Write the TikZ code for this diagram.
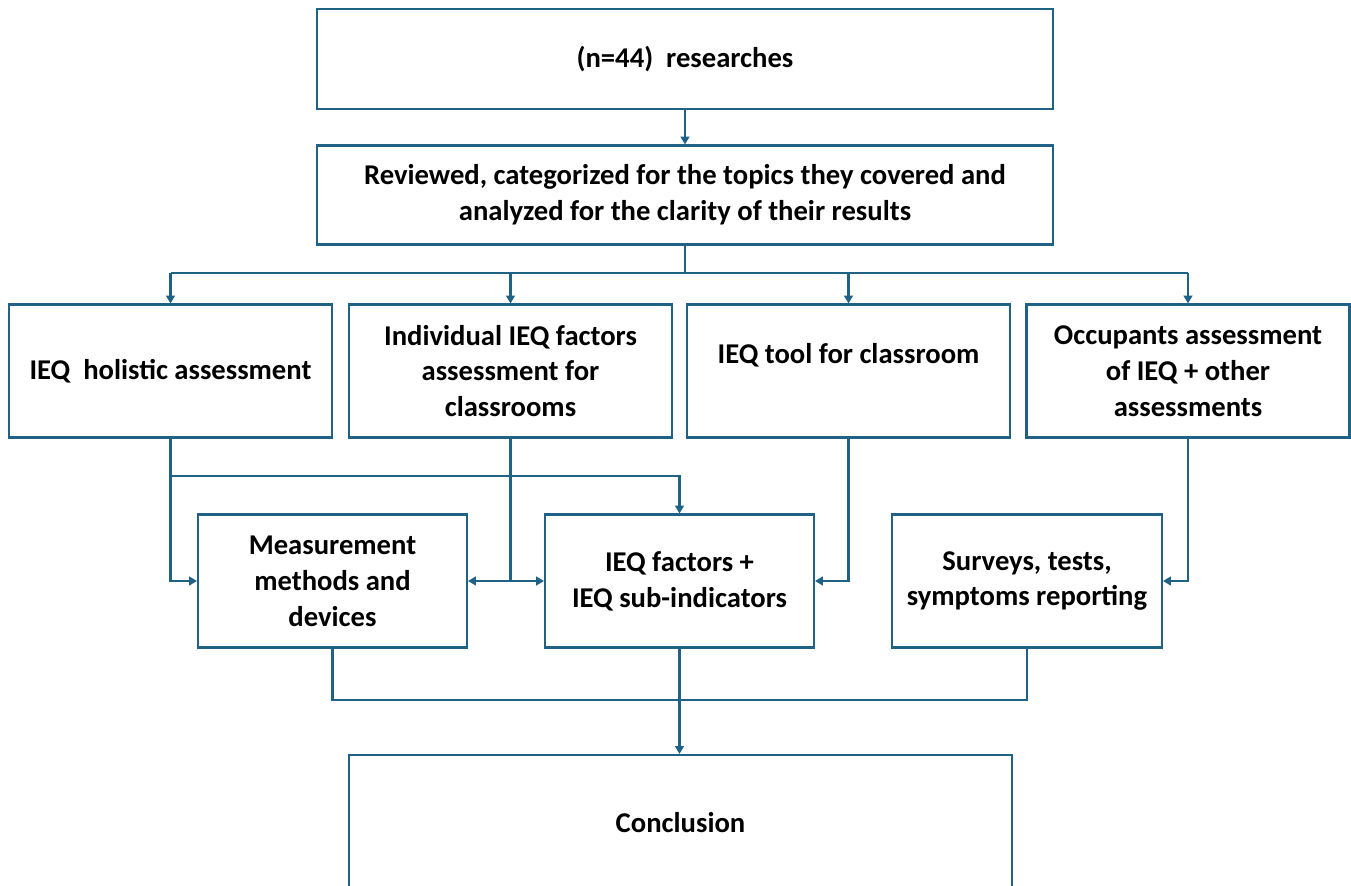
\documentclass[tikz,border=0pt]{standalone}
\usepackage{fontspec}
\setmainfont{Carlito}
\usepackage{tikz}
\usetikzlibrary{arrows.meta,positioning}
\definecolor{flowblue}{HTML}{1F6286}

\tikzset{
  box/.style={draw=flowblue, line width=1.2pt, fill=white, align=center,
    inner sep=2pt, font=\fontsize{16.3}{20.4}\selectfont\bfseries},
  wide/.style={box, minimum width=14.72cm, minimum height=1.98cm},
  cat/.style={box, minimum width=6.46cm, minimum height=2.66cm},
  sub/.style={box, minimum width=5.38cm, minimum height=2.66cm},
  link/.style={draw=flowblue, line width=1.2pt},
  arr/.style={link, -{Triangle[length=4.5pt,width=5pt]}}
}

\begin{document}
\begin{tikzpicture}[x=0.02cm, y=-0.02cm]
  \clip (0,0) rectangle (1351,885);
  \fill[white] (0,0) rectangle (1351,885);

  % top boxes
  \node[wide, minimum height=2cm] (res) at (685,59) {(n=44)\ \ researches};
  \node[wide] (rev) at (685,195) {Reviewed, categorized for the topics they covered and\\ analyzed for the clarity of their results};

  % categories
  \node[cat] (holist) at (170.5,371) {IEQ\ \ holistic assessment};
  \node[cat] (indiv) at (510.5,371) {Individual IEQ factors\\ assessment for\\ classrooms};
  \node[cat] (tool) at (848.5,371) {IEQ tool for classroom\\ \mbox{}};
  \node[cat] (occup) at (1188,371) {Occupants assessment\\ of IEQ + other\\ assessments};

  % sub results
  \node[sub] (meas) at (332.5,581) {Measurement\\ methods and\\ devices};
  \node[sub] (fact) at (679.5,581) {IEQ factors +\\ IEQ sub-indicators};
  \node[sub, minimum width=5.4cm] (surv) at (1027,581) {Surveys, tests,\\ symptoms reporting};

  \node[box, minimum width=13.26cm, minimum height=2.72cm] (concl) at (680.5,823) {Conclusion};

  \coordinate (bus) at (685,273);
  \coordinate (split) at (173,476);
  \coordinate (join) at (680,700);

  % connectors
  \draw[arr] (res.south) -- (rev.north);
  \draw[link] (rev.south) -- (bus);
  \draw[link] (holist.north |- bus) -- (occup.north |- bus);
  \foreach \n in {holist,indiv,tool,occup}
    \draw[arr] (\n.north |- bus) -- (\n.north);

  \draw[arr] (holist.south) -- (holist.south |- meas.west) -- (meas.west);
  \draw[arr] (holist.south |- split) -- (fact.north |- split) -- (fact.north);
  \draw[link] (indiv.south) -- (indiv.south |- meas.east);
  \draw[arr] (indiv.south |- meas.east) -- (meas.east);
  \draw[arr] (indiv.south |- fact.west) -- (fact.west);
  \draw[arr] (tool.south) -- (tool.south |- fact.east) -- (fact.east);
  \draw[arr] (occup.south) -- (occup.south |- surv.east) -- (surv.east);

  \draw[link] (meas.south) -- (meas.south |- join) -- (surv.south |- join) -- (surv.south);
  \draw[arr] (fact.south) -- (fact.south |- concl.north);
\end{tikzpicture}
\end{document}
